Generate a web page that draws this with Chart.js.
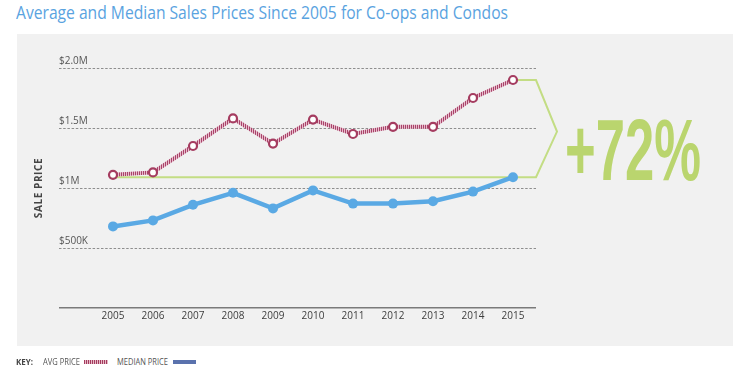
<!DOCTYPE html>
<html>
<head>
<meta charset="utf-8">
<script src="https://cdn.jsdelivr.net/npm/chart.js@4.4.0/dist/chart.umd.min.js"></script>
<style>
  body { margin: 0; background: #fff; }
  #page { position: relative; width: 750px; height: 379px; overflow: hidden; font-family: "Open Sans", sans-serif; }
  #title { position: absolute; left: 16px; top: 3px; font-size: 18px; line-height: 18px; color: #5aa3df; white-space: nowrap; transform-origin: left center; }
  #panel { position: absolute; left: 17px; top: 34px; width: 716px; height: 312px; background: #f1f1f1; }
  #chart { position: absolute; left: 0; top: 0; }
  #ytitle { position: absolute; left: 38px; top: 188px; font-size: 10px; font-weight: bold; letter-spacing: 0.6px; color: #454545; white-space: nowrap; transform: translate(-50%, -50%) rotate(-90deg); }
  #growth { position: absolute; left: 565px; top: 106px; font-family: "Liberation Sans", sans-serif; font-weight: bold; font-size: 88px; line-height: 88px; color: #bad56e; white-space: nowrap; transform-origin: left center; }
  .key { position: absolute; top: 357px; font-size: 9px; line-height: 9px; color: #555; white-space: nowrap; transform-origin: left center; }
  .swatch { position: absolute; height: 4px; }
</style>
</head>
<body>
<div id="page">
  <div id="title">Average and Median Sales Prices Since 2005 for Co-ops and Condos</div>
  <div id="panel"><canvas id="chart" width="716" height="312"></canvas></div>
  <div id="ytitle">SALE PRICE</div>
  <div id="growth">+72%</div>
  <div class="key" id="k0" style="left:16px;font-weight:bold;color:#444">KEY:</div>
  <div class="key" id="k1" style="left:43px">AVG PRICE</div>
  <div class="swatch" style="left:84px;top:360px;width:24px;background:repeating-linear-gradient(90deg,#a33b5e 0 1px,#e6b9c6 1px 2px)"></div>
  <div class="key" id="k2" style="left:117px">MEDIAN PRICE</div>
  <div class="swatch" style="left:173px;top:360px;width:23px;background:#5a72ad"></div>
</div>

<script>
// values in $ millions
const years = [2005, 2006, 2007, 2008, 2009, 2010, 2011, 2012, 2013, 2014, 2015];
const avgPrice = [1.11, 1.13, 1.35, 1.58, 1.37, 1.57, 1.45, 1.51, 1.51, 1.75, 1.90];
const medianPrice = [0.68, 0.73, 0.86, 0.96, 0.83, 0.98, 0.87, 0.87, 0.89, 0.97, 1.09];
const yTickLabels = ['', '$500K', '$1M', '$1.5M', '$2.0M'];

function fitWidth(id, w) {
  var el = document.getElementById(id);
  var r = el.getBoundingClientRect().width;
  el.style.transform = 'scaleX(' + (w / r) + ')';
}
fitWidth('title', 492);
fitWidth('growth', 136);
fitWidth('k0', 17);
fitWidth('k1', 37);
fitWidth('k2', 51);

function hatch() {
  var c = document.createElement('canvas');
  c.width = 2; c.height = 2;
  var g = c.getContext('2d');
  g.fillStyle = '#e8bccb';
  g.fillRect(0, 0, 2, 2);
  g.fillStyle = '#a8436a';
  g.fillRect(0, 0, 1, 2);
  return g.createPattern(c, 'repeat');
}

// green bracket from the median 2015 level to the avg 2015 level
var bracket = {
  id: 'bracket',
  beforeDatasetsDraw: function(chart) {
    var xs = chart.scales.x, ys = chart.scales.y, ctx = chart.ctx;
    var n = years.length;
    var right = chart.chartArea.right;
    var yLow = ys.getPixelForValue(medianPrice[n - 1]);
    var yHigh = ys.getPixelForValue(avgPrice[n - 1]);
    ctx.save();
    ctx.strokeStyle = '#c3dd84';
    ctx.lineWidth = 2;
    ctx.beginPath();
    ctx.moveTo(xs.getPixelForValue(years[0]), yLow);
    ctx.lineTo(right, yLow);
    ctx.lineTo(right + 21, (yLow + yHigh) / 2 + 3);
    ctx.lineTo(right, yHigh);
    ctx.lineTo(xs.getPixelForValue(years[n - 1]), yHigh);
    ctx.stroke();
    ctx.restore();
  }
};

new Chart(document.getElementById('chart'), {
  type: 'line',
  data: {
    datasets: [{
      label: 'AVG PRICE',
      data: years.map(function(y, i) { return {x: y, y: avgPrice[i]}; }),
      borderColor: hatch(),
      borderWidth: 4,
      pointRadius: 4,
      pointBorderWidth: 2.2,
      pointBackgroundColor: '#fff',
      pointBorderColor: '#a53c60',
      tension: 0
    }, {
      label: 'MEDIAN PRICE',
      data: years.map(function(y, i) { return {x: y, y: medianPrice[i]}; }),
      borderColor: '#5aa9e4',
      borderWidth: 4.5,
      pointRadius: 5,
      pointBorderWidth: 0,
      pointBackgroundColor: '#5aa9e4',
      tension: 0
    }]
  },
  options: {
    responsive: false,
    animation: false,
    devicePixelRatio: 1,
    layout: { padding: { left: 42, right: 197, top: 34, bottom: 22 } },
    plugins: { legend: { display: false }, tooltip: { enabled: false } },
    scales: {
      x: {
        type: 'linear',
        min: 2003.65,
        max: 2015.575,
        grid: { display: false, drawTicks: false },
        border: { display: false },
        ticks: {
          stepSize: 1,
          includeBounds: false,
          autoSkip: false,
          maxRotation: 0,
          padding: 2,
          color: '#3d3d3d',
          font: { family: 'Open Sans', size: 10 },
          callback: function(v) { return (Number.isInteger(v) && v >= years[0]) ? String(v) : ''; }
        }
      },
      y: {
        min: 0,
        max: 2,
        grid: {
          drawTicks: false,
          color: function(c) { return c.tick && c.tick.value === 0 ? '#7a7a7a' : '#8e8e8e'; },
          lineWidth: function(c) { return c.tick && c.tick.value === 0 ? 1.6 : 1; }
        },
        border: {
          display: false,
          dash: function(c) { return c.tick && c.tick.value === 0 ? [] : [2.5, 1.7]; }
        },
        ticks: {
          stepSize: 0.5,
          mirror: true,
          padding: 0,
          labelOffset: -7,
          color: '#555',
          font: { family: 'Open Sans', size: 10 },
          callback: function(v, i) { return yTickLabels[i]; }
        }
      }
    }
  },
  plugins: [bracket]
});
</script>
</body>
</html>
